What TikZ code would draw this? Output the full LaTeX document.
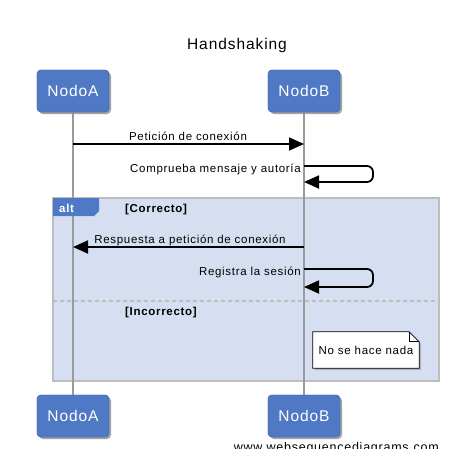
\documentclass[tikz,border=0pt]{standalone}
\usepackage{fontspec}
\setmainfont{Liberation Sans}[LetterSpace=6]
\usepackage{tikz}
\usetikzlibrary{arrows.meta, positioning, shadows}

\definecolor{nodeblue}{HTML}{4F79C4}
\definecolor{framefill}{HTML}{D6DFF1}
\definecolor{framegray}{HTML}{BDBDBD}
\definecolor{lifegray}{HTML}{9A9A9A}

\tikzset{
  actor/.style={fill=nodeblue, draw=nodeblue!85!black, rounded corners=4pt,
    minimum width=72pt, minimum height=42pt, text=white,
    font=\fontsize{15.5}{18}\selectfont,
    drop shadow={opacity=0.45, shadow xshift=2pt, shadow yshift=-2pt}},
  lifeline/.style={draw=lifegray, line width=1.6pt},
  msg/.style={draw=black, line width=1.8pt, -{Triangle[length=15pt, width=13pt]}},
  msglabel/.style={font=\fontsize{11.5}{13}\selectfont, inner sep=0pt},
  guard/.style={font=\bfseries\fontsize{11.5}{13}\selectfont, inner sep=0pt, anchor=base west}
}

\begin{document}
\begin{tikzpicture}[x=1pt, y=-1pt]

% Canvas
\fill[white] (0,0) rectangle (470,469);
\useasboundingbox (0,0) rectangle (470,469);

% Title
\node[anchor=base, font=\fontsize{15.5}{18}\selectfont] (title) at (237,49) {Handshaking};

% Alt frame
\filldraw[fill=framefill, draw=framegray, line width=1.6pt] (53,198) rectangle (439,381);
\draw[framegray, line width=1.2pt, dash pattern=on 4pt off 3pt] (53,301) -- (439,301);
\node[guard] (correcto) at (125,212) {[Correcto]};
\node[guard] (incorrecto) at (125,315) {[Incorrecto]};

% Participants
\node[actor] (topA) at (73,91) {NodoA};
\node[actor] (topB) at (304,91) {NodoB};
\node[actor] (botA) at (73,416) {NodoA};
\node[actor] (botB) at (304,416) {NodoB};

% Lifelines
\draw[lifeline] (topA) -- (botA);
\draw[lifeline] (topB) -- (botB);
\node[actor] at (topA) {NodoA};
\node[actor] at (topB) {NodoB};
\node[actor] at (botA) {NodoA};
\node[actor] at (botB) {NodoB};

% Alt tab
\fill[nodeblue] (53,198) -- (99,198) -- (99,211) -- (94,216) -- (53,216) -- cycle;
\node[anchor=base west, text=white, font=\bfseries\fontsize{11.5}{13}\selectfont, inner sep=0pt]
  (alt) at (59,212) {alt};

% Message rows
\coordinate (m1) at (0,144);
\coordinate (s1) at (0,166);
\coordinate (s1e) at (0,182);
\coordinate (m2) at (0,247);
\coordinate (s2) at (0,269);
\coordinate (s2e) at (0,287);

% Messages
\draw[msg] (topA |- m1) -- (topB |- m1);
\node[msglabel, anchor=base] (lbl1) at (188,140) {Petición de conexión};

\draw[msg, rounded corners=6pt] (topB |- s1) -- ++(69,0) |- (topB |- s1e);
\node[msglabel, anchor=base east] (lbl2) at (301,172) {Comprueba mensaje y autoría};

\draw[msg] (topB |- m2) -- (topA |- m2);
\node[msglabel, anchor=base] (lbl3) at (190,243) {Respuesta a petición de conexión};

\draw[msg, rounded corners=6pt] (topB |- s2) -- ++(69,0) |- (topB |- s2e);
\node[msglabel, anchor=base east] (lbl4) at (301,275) {Registra la sesión};

% Note
\node[msglabel, minimum width=106pt, minimum height=36pt] (note) at (366,350) {};
\filldraw[fill=white, draw=black, line width=0.8pt,
  drop shadow={opacity=0.45, shadow xshift=2pt, shadow yshift=-2pt}]
  (note.north west) -- ([xshift=-10pt]note.north east) -- ([yshift=-10pt]note.north east)
  -- (note.south east) -- (note.south west) -- cycle;
\draw[line width=0.8pt] ([xshift=-10pt]note.north east) |- ([yshift=-10pt]note.north east);
\node[msglabel] at (note) {No se hace nada};

% Watermark
\begin{scope}
  \clip (0,0) rectangle (470,448);
  \node[anchor=base east, font=\fontsize{12.5}{15}\selectfont, inner sep=0pt] (wsd) at (439,451)
    {www.websequencediagrams.com};
\end{scope}

\end{tikzpicture}
\end{document}
